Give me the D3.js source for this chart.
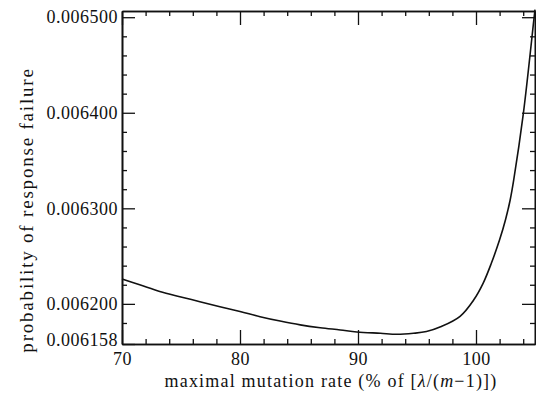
<!DOCTYPE html>
<html lang="en">
  <head>
    <meta charset="utf-8">
    <title>response failure</title>
    <script src="https://cdn.jsdelivr.net/npm/d3@7"></script>
    <style>
      body { margin: 0; background: #fff; }
      svg text { font-family: 'Liberation Serif', 'DejaVu Serif', serif; fill: #111; }
    </style>
  </head>
  <body>
    <svg></svg>
    <script>
    // data
    var rates = [70, 71.5, 73.2, 74.9, 76.6, 78.3, 80, 81.7, 83.4, 85.1, 86.8, 88.5, 89.9, 91.9, 93.3, 94.7, 95.8, 97, 98.65, 99.8, 100.6, 101.3, 102, 102.5, 102.9, 103.2, 104, 104.9, 105];
    var failure = [0.006226, 0.00622, 0.006213, 0.0062075, 0.0062023, 0.006197, 0.006192, 0.0061866, 0.006182, 0.006178, 0.006175, 0.0061727, 0.0061706, 0.0061692, 0.0061682, 0.0061692, 0.006171, 0.006176, 0.006187, 0.006204, 0.0062215, 0.0062425, 0.006267, 0.006288, 0.006309, 0.00633, 0.006398, 0.006497, 0.006508];
    var yTicks = [0.006158, 0.0062, 0.0063, 0.0064, 0.0065];
    var xTicks = [70, 80, 90, 100];

    var width = 536, height = 402;
    // plot frame (window.top is reserved, hence the prefix)
    var pLeft = 122, pRight = 535, pTop = 11, pBottom = 344;

    var svg = d3.select("svg").attr("width", width).attr("height", height);

    var x = d3.scaleLinear().domain([70, 105]).range([pLeft, pRight]);
    var y = d3.scaleLinear().domain([0.006158, 0.0065065]).range([pBottom, pTop]);

    var xMinor = d3.range(72, 105, 2).filter(function(d){ return d % 10 != 0; });
    var yMinor = d3.range(0.00618, 0.0065, 0.00002).filter(function(d){
      return Math.abs(d * 10000 - Math.round(d * 10000)) > 0.01;
    });

    // axes: labelled on bottom/left, ticks only on top/right
    function addAxis(axis, tx, ty) {
      svg.append("g").attr("transform", "translate(" + tx + "," + ty + ")")
        .call(axis)
        .call(function(g){
          g.selectAll("path.domain").attr("stroke", "#111").attr("stroke-width", 1.6);
          g.selectAll(".tick line").attr("stroke", "#111").attr("stroke-width", 1.3);
          g.selectAll("text").attr("font-size", 18).style("letter-spacing", "0.5px");
        });
    }
    var fmt = d3.format(".6f");

    addAxis(d3.axisBottom(x).tickValues(xTicks).tickSizeInner(-14).tickSizeOuter(0).tickPadding(8)
      .tickFormat(d3.format("d")), 0, pBottom);
    addAxis(d3.axisBottom(x).tickValues(xMinor).tickSizeInner(-5).tickSizeOuter(0).tickFormat(""), 0, pBottom);
    addAxis(d3.axisTop(x).tickValues(xTicks).tickSizeInner(-14).tickSizeOuter(0).tickFormat(""), 0, pTop);
    addAxis(d3.axisTop(x).tickValues(xMinor).tickSizeInner(-5).tickSizeOuter(0).tickFormat(""), 0, pTop);

    addAxis(d3.axisLeft(y).tickValues(yTicks).tickSizeInner(-13).tickSizeOuter(0).tickPadding(4)
      .tickFormat(fmt), pLeft, 0);
    addAxis(d3.axisLeft(y).tickValues(yMinor).tickSizeInner(-5).tickSizeOuter(0).tickFormat(""), pLeft, 0);
    addAxis(d3.axisRight(y).tickValues(yTicks.slice(1)).tickSizeInner(-13).tickSizeOuter(0).tickFormat(""), pRight, 0);
    addAxis(d3.axisRight(y).tickValues(yMinor).tickSizeInner(-5).tickSizeOuter(0).tickFormat(""), pRight, 0);

    // the 0.006158 label sits a little above its tick
    svg.selectAll("text").filter(function(){ return this.textContent == "0.006158"; })
      .attr("dy", "0.06em");

    // curve
    var line = d3.line()
      .x(function(d, i){ return x(rates[i]); })
      .y(function(d){ return y(d); })
      .curve(d3.curveCatmullRom.alpha(0.5));
    svg.append("path")
      .datum(failure)
      .attr("d", line)
      .attr("fill", "none")
      .attr("stroke", "#111")
      .attr("stroke-width", 1.6);

    // axis titles
    var xt = svg.append("text")
      .attr("x", 331).attr("y", 387)
      .attr("text-anchor", "middle").attr("font-size", 18).style("letter-spacing", "1.2px");
    xt.append("tspan").text("maximal mutation rate (% of [");
    xt.append("tspan").attr("font-style", "italic").text("λ");
    xt.append("tspan").text("/(");
    xt.append("tspan").attr("font-style", "italic").text("m");
    xt.append("tspan").text("−1)])");

    svg.append("text")
      .attr("transform", "translate(33," + 210 + ") rotate(-90)")
      .attr("text-anchor", "middle").attr("font-size", 19).style("letter-spacing", "1.8px")
      .text("probability of response failure");
    </script>
  </body>
</html>
